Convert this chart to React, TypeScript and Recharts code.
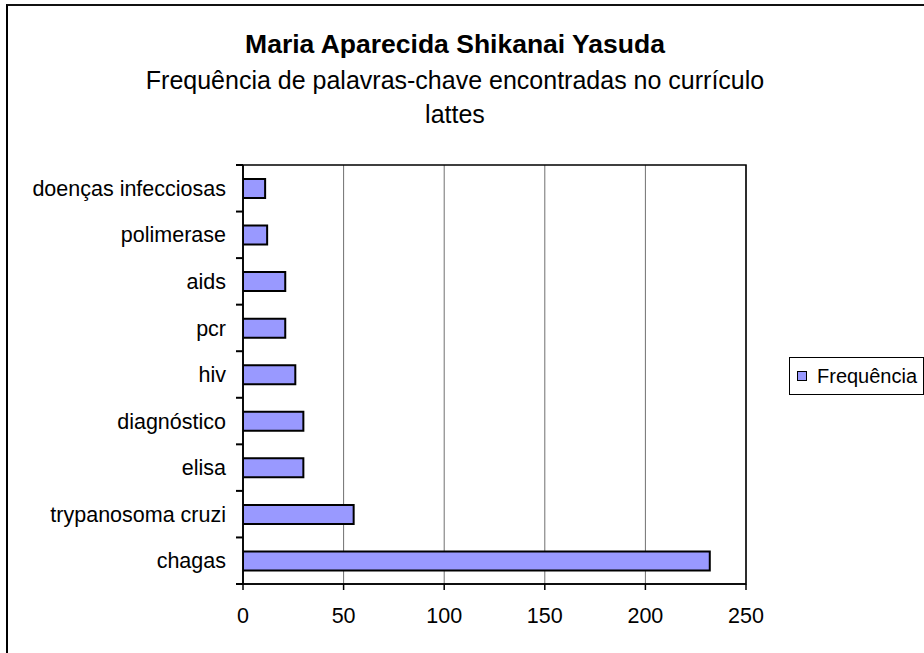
import React from 'react';
import { BarChart, Bar, XAxis, YAxis, CartesianGrid, Legend, ReferenceArea } from 'recharts';

const FONT = "'Liberation Sans', Arial, sans-serif";

const categories = [
  'doenças infecciosas',
  'polimerase',
  'aids',
  'pcr',
  'hiv',
  'diagnóstico',
  'elisa',
  'trypanosoma cruzi',
  'chagas',
];
const frequencies = [11, 12, 21, 21, 26, 30, 30, 55, 232];
const xTicks = [0, 50, 100, 150, 200, 250];
const seriesName = 'Frequência';
const titleText = 'Maria Aparecida Shikanai Yasuda';
const subtitleLines = ['Frequência de palavras-chave encontradas no currículo', 'lattes'];

const data = categories.map((name, i) => ({ name, freq: frequencies[i] }));

const CHART_W = 924;
const CHART_H = 653;
const MARGIN = { top: 165, right: 178, bottom: 29, left: 0 };
const X_AXIS_H = 40;
const Y_AXIS_W = 243;
const PLOT_H = CHART_H - MARGIN.top - MARGIN.bottom - X_AXIS_H;

const TICK_FONT = 21.5;
const Y_TICK_MARGIN = 17;
const Y_TICK_LEN = 7;

const renderLegend = (props: any) => {
  const payload = props.payload || [];
  return (
    <div
      style={{
        border: '1px solid #000',
        width: 135,
        height: 38,
        boxSizing: 'border-box',
        display: 'flex',
        alignItems: 'center',
        paddingLeft: 7,
        background: '#fff',
        fontFamily: FONT,
        fontSize: 20,
        color: '#000',
      }}
    >
      {payload.map((e: any, i: number) => (
        <span key={i} style={{ display: 'flex', alignItems: 'center' }}>
          <span
            style={{
              display: 'inline-block',
              width: 10,
              height: 10,
              boxSizing: 'border-box',
              background: e.color,
              border: '1px solid #000',
              marginRight: 10,
            }}
          />
          {e.value}
        </span>
      ))}
    </div>
  );
};

export default function App() {
  const boundaryIdx = Array.from({ length: categories.length + 1 }, (_, i) => i);
  return (
    <div
      style={{
        position: 'absolute',
        left: 0,
        top: 0,
        width: CHART_W,
        height: CHART_H,
        background: '#fff',
        overflow: 'hidden',
        fontFamily: FONT,
      }}
    >
      <div
        style={{
          position: 'absolute',
          left: 6,
          top: 4,
          width: 940,
          height: 670,
          borderLeft: '2px solid #000',
          borderTop: '2px solid #111',
        }}
      />
      <BarChart
        width={CHART_W}
        height={CHART_H}
        data={data}
        layout="vertical"
        margin={MARGIN}
        barSize={19}
      >
        <CartesianGrid horizontal={false} vertical={true} stroke="#707070" strokeWidth={1} />
        <XAxis
          type="number"
          domain={[0, 250]}
          ticks={xTicks}
          allowDataOverflow
          height={X_AXIS_H}
          axisLine={{ stroke: '#000', strokeWidth: 1.5 }}
          tickLine={{ stroke: '#000', strokeWidth: 1.5 }}
          tickSize={6}
          tickMargin={18}
          tick={{ fill: '#000', fontSize: TICK_FONT, fontFamily: FONT }}
        />
        <YAxis
          type="category"
          dataKey="name"
          width={Y_AXIS_W}
          axisLine={{ stroke: '#000', strokeWidth: 1.5 }}
          tickLine={false}
          tickSize={0}
          tickMargin={Y_TICK_MARGIN}
          tick={{ fill: '#000', fontSize: TICK_FONT, fontFamily: FONT }}
          interval={0}
        />
        <Legend
          layout="horizontal"
          align="center"
          verticalAlign="middle"
          content={renderLegend}
          wrapperStyle={{ left: 789, top: 357, width: 135, height: 38 }}
        />
        <Bar
          dataKey="freq"
          name={seriesName}
          fill="#9999FF"
          stroke="#000"
          strokeWidth={2}
          isAnimationActive={false}
        />
        <ReferenceArea x1={0} x2={250} fill="none" stroke="#000" strokeWidth={1.5} />
      </BarChart>
      <svg
        width={CHART_W}
        height={CHART_H}
        style={{ position: 'absolute', left: 0, top: 0, pointerEvents: 'none' }}
      >
        {boundaryIdx.map((i) => {
          const yy = MARGIN.top + (i * PLOT_H) / categories.length;
          return (
            <line
              key={`bt${i}`}
              x1={MARGIN.left + Y_AXIS_W - Y_TICK_LEN}
              x2={MARGIN.left + Y_AXIS_W}
              y1={yy}
              y2={yy}
              stroke="#000"
              strokeWidth={2}
            />
          );
        })}
        <text x={455} y={53} textAnchor="middle" fontFamily={FONT} fontSize={26.5} fontWeight="bold" fill="#000">
          {titleText}
        </text>
        {subtitleLines.map((line, i) => (
          <text
            key={i}
            x={455}
            y={89 + i * 34}
            textAnchor="middle"
            fontFamily={FONT}
            fontSize={25}
            fill="#000"
          >
            {line}
          </text>
        ))}
      </svg>
    </div>
  );
}
